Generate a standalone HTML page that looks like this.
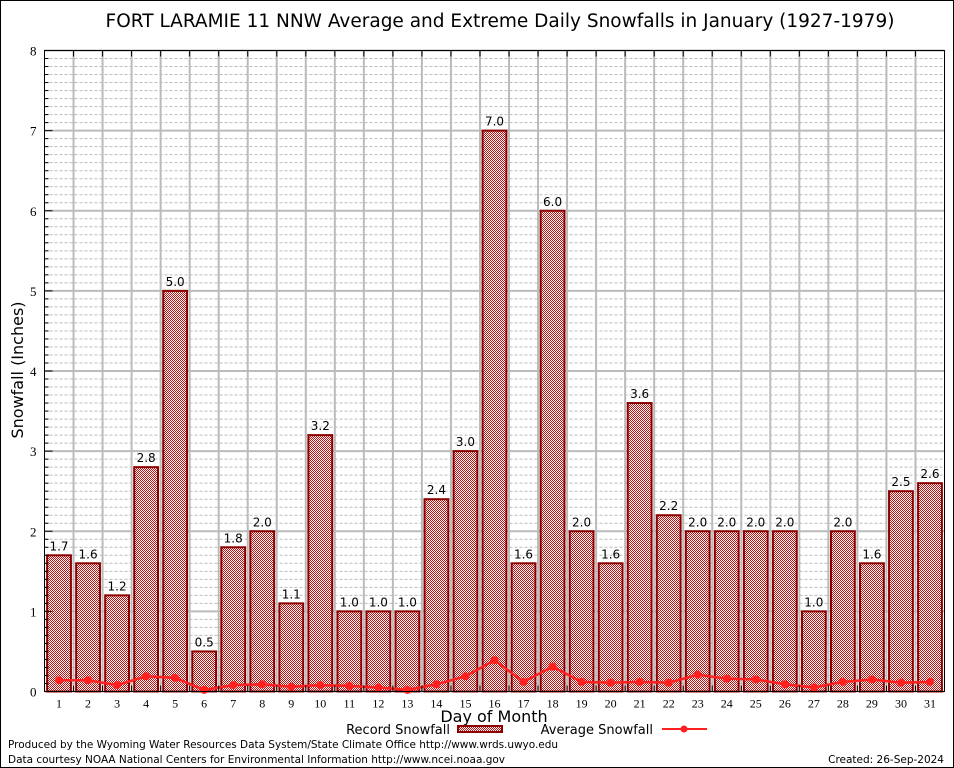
<!DOCTYPE html>
<html><head><meta charset="utf-8"><style>
body{margin:0;background:#fff;}
svg{display:block;font-family:"DejaVu Sans",sans-serif;}
</style></head><body>
<svg id="chart" width="954" height="768">
<defs>
<pattern id="hatch" width="2" height="2" patternUnits="userSpaceOnUse">
<rect width="2" height="2" fill="#fff"/>
<rect width="1" height="1" fill="#c01010"/><rect x="1" y="1" width="1" height="1" fill="#c01010"/>
</pattern>
</defs>
<rect x="0.5" y="0.5" width="953" height="767" fill="#fff" stroke="#000"/>
<text x="500" y="27" text-anchor="middle" font-size="18.5">FORT LARAMIE 11 NNW Average and Extreme Daily Snowfalls in January (1927-1979)</text>
<g id="grid"></g>
<g id="bars"></g>
<g id="avg"></g>
<rect x="44.5" y="50.5" width="900" height="641" fill="none" stroke="#000"/>
<g id="axes"></g>
<text transform="translate(23,370) rotate(-90)" text-anchor="middle" font-size="16">Snowfall (Inches)</text>
<text x="494" y="722" text-anchor="middle" font-size="16">Day of Month</text>
<g>
<text x="450" y="734" text-anchor="end" font-size="13">Record Snowfall</text>
<rect x="458" y="726" width="44" height="6" fill="url(#hatch)" stroke="#8b0000" stroke-width="2"/>
</g>
<g>
<text x="653" y="734" text-anchor="end" font-size="13">Average Snowfall</text>
<line x1="662" y1="729" x2="707" y2="729" stroke="#ff2020" stroke-width="2"/>
<circle cx="684" cy="729" r="3.5" fill="#ff2020"/>
</g>
<text x="8" y="748" font-size="10.5" textLength="550">Produced by the Wyoming Water Resources Data System/State Climate Office http://www.wrds.uwyo.edu</text>
<text x="8" y="763" font-size="10.5" textLength="497">Data courtesy NOAA National Centers for Environmental Information http://www.ncei.noaa.gov</text>
<text x="944" y="763" text-anchor="end" font-size="10.5">Created: 26-Sep-2024</text>
</svg>
<script>
const days = [1,2,3,4,5,6,7,8,9,10,11,12,13,14,15,16,17,18,19,20,21,22,23,24,25,26,27,28,29,30,31];
const recordSnow = [1.7,1.6,1.2,2.8,5.0,0.5,1.8,2.0,1.1,3.2,1.0,1.0,1.0,2.4,3.0,7.0,1.6,6.0,2.0,1.6,3.6,2.2,2.0,2.0,2.0,2.0,1.0,2.0,1.6,2.5,2.6];
const avgSnow = [0.14,0.14,0.08,0.19,0.17,0.02,0.08,0.09,0.06,0.08,0.07,0.05,0.02,0.09,0.19,0.39,0.12,0.31,0.12,0.11,0.12,0.11,0.21,0.16,0.15,0.09,0.05,0.12,0.15,0.11,0.12];
const yTicks = [0,1,2,3,4,5,6,7,8];
const NS="http://www.w3.org/2000/svg";
const X0=44.5,X1=944.5,Y0=691.5,Y1=50.5,step=(X1-X0)/days.length;
const xc=d=>X0+step*(d-0.5);
const y=v=>Y0-(Y0-Y1)*v/8;
function mk(tag,attrs,parent){const e=document.createElementNS(NS,tag);for(const k in attrs)e.setAttribute(k,attrs[k]);parent.appendChild(e);return e;}
const grid=document.getElementById('grid'),bars=document.getElementById('bars'),avg=document.getElementById('avg'),axes=document.getElementById('axes');
for(let i=1;i<80;i++){if(i%10===0)continue;const l=mk('line',{x1:X0,x2:X1,y1:y(i/10),y2:y(i/10),stroke:'#bbb','stroke-dasharray':'3,2','stroke-width':1},grid);


mk('line',{x1:X0,x2:X0+4,y1:y(i/10),y2:y(i/10),stroke:'#000'},axes);}
yTicks.forEach(t=>{const l=mk('line',{x1:X0,x2:X1,y1:y(t),y2:y(t),stroke:'#bbb','stroke-width':2},grid);


const tx=mk('text',{x:X0-8,y:y(t)+5,'text-anchor':'end','font-size':13,'font-family':'Liberation Serif,serif'},axes);tx.textContent=t;


mk('line',{x1:X0,x2:X0+8,y1:y(t),y2:y(t),stroke:'#000'},axes);});
for(let i=1;i<days.length;i++){const x=X0+step*i;const l=mk('line',{x1:x,x2:x,y1:Y1,y2:Y0,stroke:'#bbb','stroke-width':2},grid);


mk('line',{x1:x,x2:x,y1:Y1,y2:Y1+6,stroke:'#000'},axes);mk('line',{x1:x,x2:x,y1:Y0,y2:Y0-6,stroke:'#000'},axes);}
days.forEach((d,i)=>{const v=recordSnow[i];const bw=step*0.82;
const r=mk('rect',{x:xc(d)-bw/2,y:y(v),width:bw,height:Y0-y(v),fill:'url(#hatch)',stroke:'#8b0000','stroke-width':2},bars);


const t=mk('text',{x:xc(d),y:y(v)-5,'text-anchor':'middle','font-size':12},bars);t.textContent=v.toFixed(1);


const xl=mk('text',{x:xc(d),y:Y0+16,'text-anchor':'middle','font-size':12,'font-family':'Liberation Serif,serif'},axes);xl.textContent=d;

});
const pl=mk('polyline',{points:days.map((d,i)=>xc(d)+','+y(avgSnow[i])).join(' '),fill:'none',stroke:'#ff2020','stroke-width':2.5},avg);


days.forEach((d,i)=>{const c=mk('circle',{cx:xc(d),cy:y(avgSnow[i]),r:4,fill:'#ff2020'},avg);

});
</script>
</body></html>
